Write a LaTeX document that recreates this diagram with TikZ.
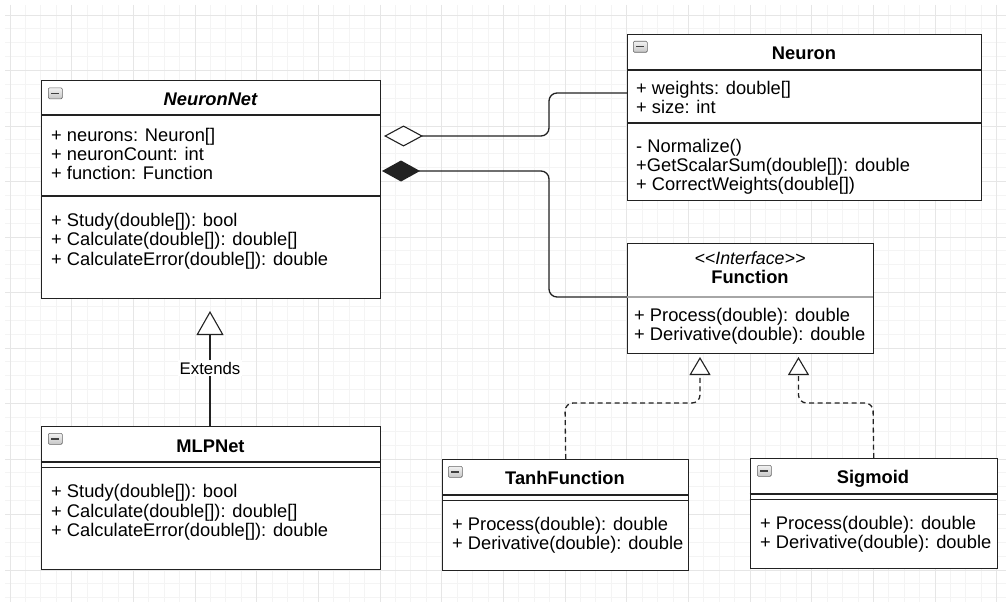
\documentclass[tikz,border=0pt]{standalone}
\usepackage{fontspec}
\setmainfont{Liberation Sans}
\usetikzlibrary{arrows.meta}
\definecolor{gridminor}{HTML}{F4F4F4}
\definecolor{gridmajor}{HTML}{E6E6E6}
\definecolor{edge}{HTML}{222222}
\begin{document}
\begin{tikzpicture}[x=1pt,y=-1pt,
  cls/.style={draw=edge,line width=1.4pt,fill=white,anchor=north west,inner sep=0pt},
  txt/.style={anchor=base west,inner sep=0pt,font=\fontsize{18.3}{20}\selectfont},
  ttl/.style={anchor=base,inner sep=0pt,font=\fontsize{18.3}{20}\selectfont\bfseries},
  icon/.style={draw=gray!80!black,line width=0.6pt,top color=gray!10,bottom color=gray!45,rounded corners=1.2pt,minimum width=14pt,minimum height=11pt,inner sep=0pt,anchor=north west,
    path picture={\draw[line width=1.4pt,black!75] ([xshift=3pt]path picture bounding box.west) -- ([xshift=-3pt]path picture bounding box.east);}},
  sep/.style={draw=edge,line width=1.4pt},
  conn/.style={draw=edge,line width=1.3pt,rounded corners=8pt},
]
\useasboundingbox (0,0) rectangle (1006,602);
% grid
\foreach \i in {0,...,64} {\draw[gridminor,line width=0.8pt] ({10+15.4167*\i},5) -- ({10+15.4167*\i},602);}
\foreach \j in {0,...,42} {\draw[gridminor,line width=0.8pt] (5,{15+13.875*\j}) -- (1006,{15+13.875*\j});}
\foreach \i in {0,...,16} {\draw[gridmajor,line width=0.9pt] ({10+61.667*\i},5) -- ({10+61.667*\i},602);}
\foreach \j in {0,...,10} {\draw[gridmajor,line width=0.9pt] (5,{15+55.5*\j}) -- (1006,{15+55.5*\j});}

% connector end points
\coordinate (agg-tip) at (384,136);
\coordinate (agg-src) at (627,93);
\coordinate (cmp-tip) at (382,171);
\coordinate (cmp-src) at (627,297);

% NeuronNet
\node[cls,minimum width=339pt,minimum height=218pt] (nn) at (41,80) {};
\draw[sep] (41,115) -- (380,115);
\draw[sep] (41,196) -- (380,196);
\node[icon] (nn-icon) at (48,87.5) {};
\node[ttl,font=\fontsize{18.3}{20}\selectfont\bfseries\itshape] (nn-t) at (210.5,105) {NeuronNet};
\node[txt] (nn-a1) at (51,141) {+ neurons: Neuron[]};
\node[txt] (nn-a2) at (51,160) {+ neuronCount: int};
\node[txt] (nn-a3) at (51,179) {+ function: Function};
\node[txt] (nn-m1) at (51,226) {+ Study(double[]): bool};
\node[txt] (nn-m2) at (51,245.5) {+ Calculate(double[]): double[]};
\node[txt] (nn-m3) at (51,265) {+ CalculateError(double[]): double};

% Neuron
\node[cls,minimum width=354pt,minimum height=166pt] (nr) at (627,34) {};
\draw[sep] (627,70) -- (981,70);
\draw[sep] (627,123) -- (981,123);
\node[icon] (nr-icon) at (633,41) {};
\node[ttl] (nr-t) at (804,59.5) {Neuron};
\node[txt] (nr-a1) at (636,94) {+ weights: double[]};
\node[txt] (nr-a2) at (636,113) {+ size: int};
\node[txt] (nr-m1) at (636,152.5) {- Normalize()};
\node[txt] (nr-m2) at (636,171.5) {+GetScalarSum(double[]): double};
\node[txt] (nr-m3) at (636,190.5) {+ CorrectWeights(double[])};

% Function
\node[cls,minimum width=246pt,minimum height=110pt] (fn) at (627,243) {};
\draw[draw=gray!70,line width=1.2pt] (627,297) -- (873,297);
\node[anchor=base,inner sep=0pt,font=\fontsize{17.8}{20}\selectfont\itshape] (fn-s) at (750,264) {<{}<Interface>{}>};
\node[ttl] (fn-t) at (750,283.5) {Function};
\node[txt] (fn-m1) at (634,321) {+ Process(double): double};
\node[txt] (fn-m2) at (634,340) {+ Derivative(double): double};

% MLPNet
\node[cls,minimum width=339pt,minimum height=143pt] (mlp) at (41,426) {};
\draw[sep] (41,462) -- (380,462);
\draw[sep] (41,467.5) -- (380,467.5);
\node[icon] (mlp-icon) at (48,433) {};
\node[ttl] (mlp-t) at (210.5,452) {MLPNet};
\node[txt] (mlp-m1) at (51,497.5) {+ Study(double[]): bool};
\node[txt] (mlp-m2) at (51,517) {+ Calculate(double[]): double[]};
\node[txt] (mlp-m3) at (51,536) {+ CalculateError(double[]): double};

% TanhFunction
\node[cls,minimum width=246pt,minimum height=111pt] (th) at (442,459) {};
\draw[sep] (442,495) -- (688,495);
\draw[sep] (442,500.5) -- (688,500.5);
\node[icon] (th-icon) at (448,466) {};
\node[ttl] (th-t) at (565,484.5) {TanhFunction};
\node[txt] (th-m1) at (452,530) {+ Process(double): double};
\node[txt] (th-m2) at (452,549.5) {+ Derivative(double): double};

% Sigmoid
\node[cls,minimum width=247pt,minimum height=110pt] (sg) at (749.5,458) {};
\draw[sep] (749.5,494) -- (996.5,494);
\draw[sep] (749.5,499.5) -- (996.5,499.5);
\node[icon] (sg-icon) at (757,465) {};
\node[ttl] (sg-t) at (873,483.5) {Sigmoid};
\node[txt] (sg-m1) at (760,529) {+ Process(double): double};
\node[txt] (sg-m2) at (760,548.5) {+ Derivative(double): double};

% aggregation and composition
\draw[conn,-{Diamond[open,fill=white,length=39pt,width=21pt,line width=1.1pt]}]
  (agg-src) -- (549,93) -- (549,136) -- (agg-tip);
\draw[conn,-{Diamond[length=38pt,width=21pt]}]
  (cmp-src) -- (549,297) -- (549,171) -- (cmp-tip);

% generalization
\coordinate (ext-tip) at (210,311);
\draw[conn,-{Triangle[open,fill=white,length=24pt,width=27pt,line width=1.1pt]}] (mlp.north -| ext-tip) -- (ext-tip);
\node[fill=white,inner sep=1.5pt,font=\fontsize{16.8}{18}\selectfont] (ext-l) at (210,368) {Extends};

% realizations
\coordinate (re1-tip) at (700,357);
\coordinate (re2-tip) at (798.5,357);
\draw[conn,dash pattern=on 5pt off 3.5pt,-{Triangle[open,fill=white,length=18pt,width=21pt,line width=1.1pt]}]
  (th.north) -- (565,403) -- (700,403) -- (re1-tip);
\draw[conn,dash pattern=on 5pt off 3.5pt,-{Triangle[open,fill=white,length=18pt,width=21pt,line width=1.1pt]}]
  (sg.north) -- (873,403) -- (798.5,403) -- (re2-tip);
\end{tikzpicture}
\end{document}
